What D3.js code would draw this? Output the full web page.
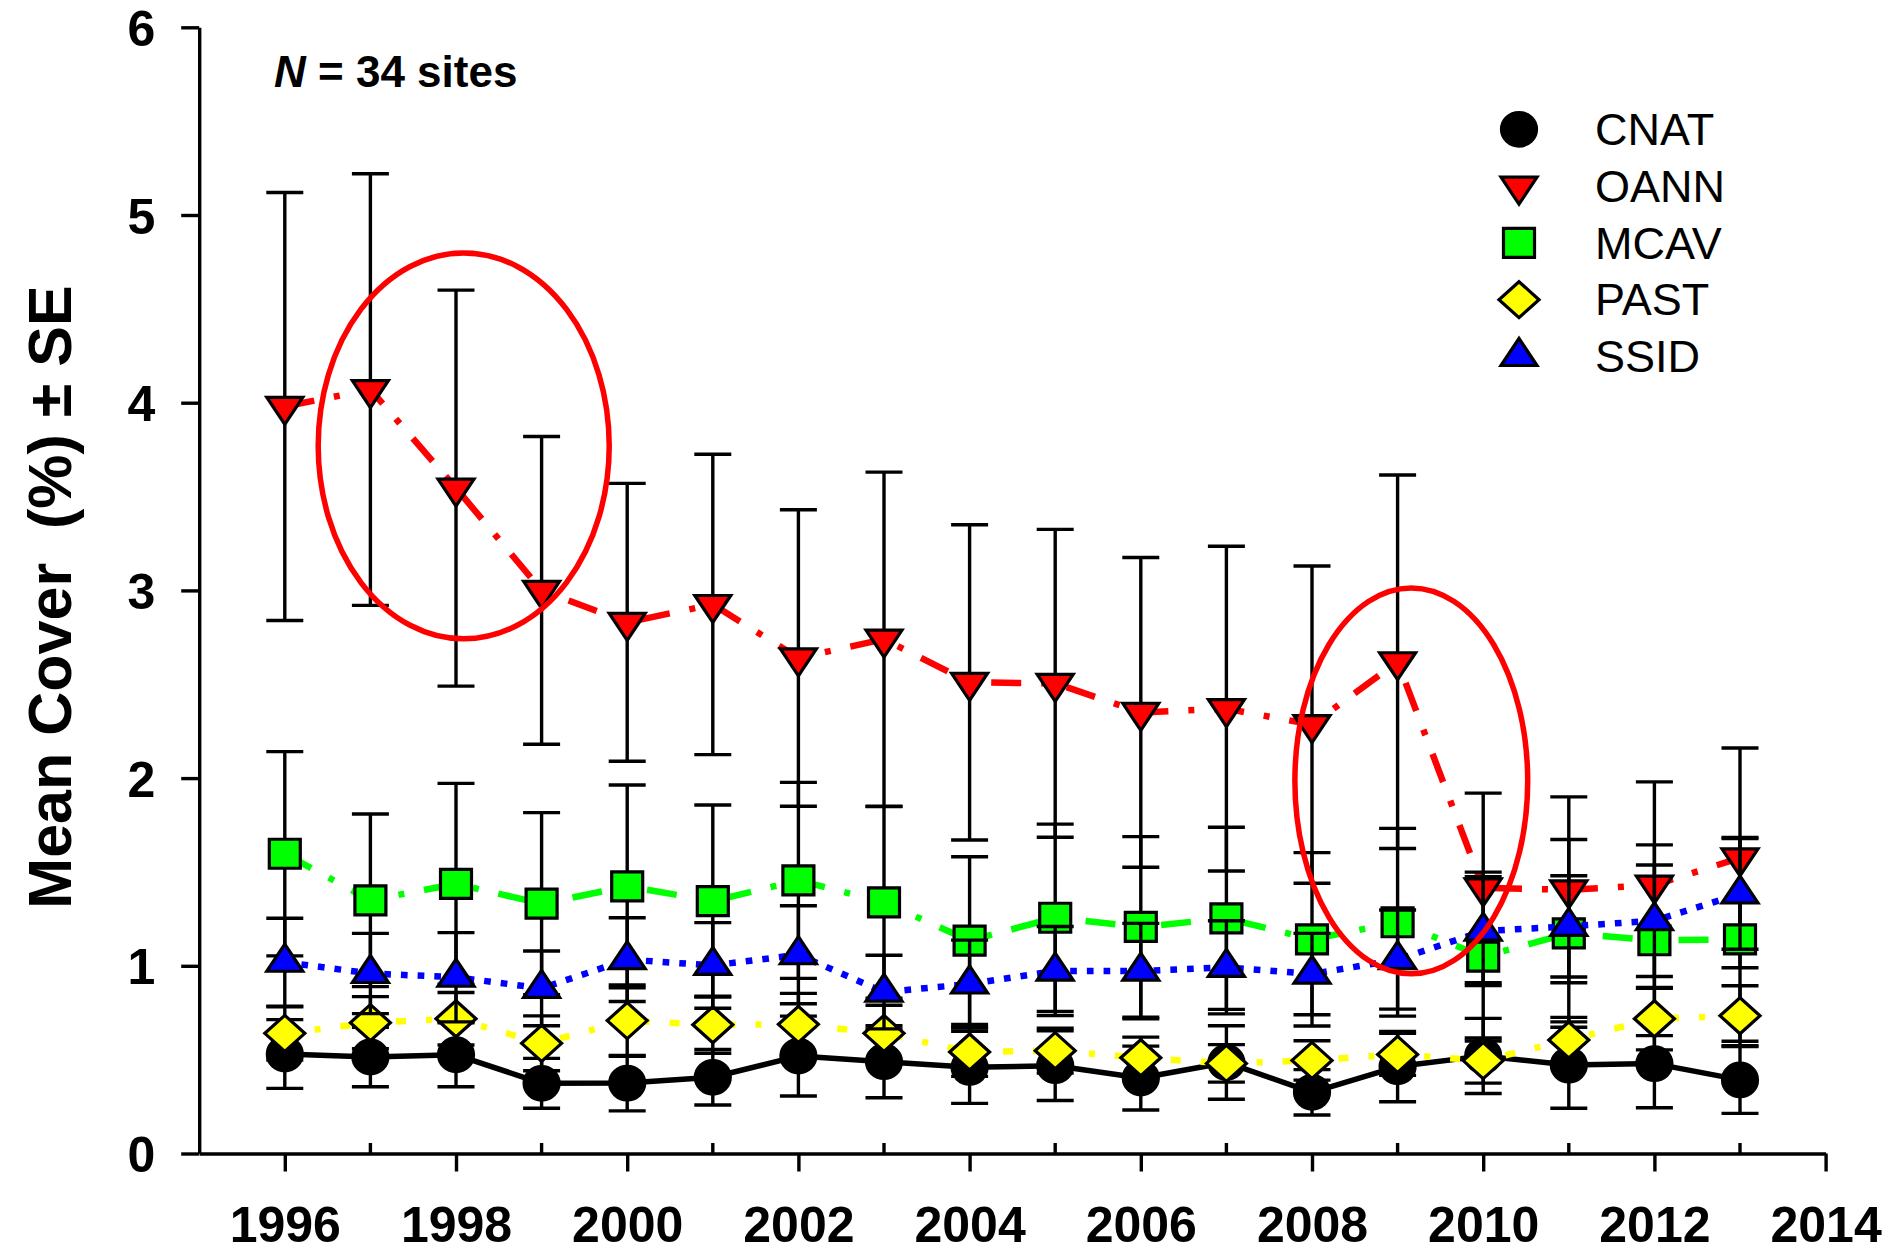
<!DOCTYPE html>
<html>
<head>
<meta charset="utf-8">
<script src="https://cdn.jsdelivr.net/npm/d3@7/dist/d3.min.js"></script>
<style>
  html, body { margin: 0; padding: 0; background: #fff; }
  svg { display: block; font-family: "Liberation Sans", Arial, Helvetica, sans-serif; }
  .pre { white-space: pre; }
</style>
</head>
<body>
<svg id="chart" width="1895" height="1254"></svg>
<script>
// Survey years
const years = [1996, 1997, 1998, 1999, 2000, 2001, 2002, 2003, 2004,
               2005, 2006, 2007, 2008, 2009, 2010, 2011, 2012, 2013];

// Mean cover (%) per species
const cnatMean = [0.530, 0.514, 0.526, 0.374, 0.375, 0.406, 0.519, 0.489, 0.459,
                  0.468, 0.402, 0.485, 0.326, 0.463, 0.520, 0.471, 0.479, 0.392];
const oannMean = [3.98, 4.07, 3.545, 3.00, 2.83, 2.925, 2.64, 2.74, 2.51,
                  2.505, 2.35, 2.37, 2.285, 2.62, 1.415, 1.405, 1.43, 1.575];
const mcavMean = [1.597, 1.349, 1.437, 1.331, 1.423, 1.345, 1.455, 1.338, 1.134,
                  1.256, 1.207, 1.253, 1.141, 1.232, 1.049, 1.173, 1.136, 1.141];
const pastMean = [0.640, 0.697, 0.718, 0.587, 0.708, 0.686, 0.688, 0.640, 0.541,
                  0.548, 0.510, 0.480, 0.496, 0.528, 0.495, 0.605, 0.718, 0.734];
const ssidMean = [1.019, 0.959, 0.939, 0.880, 1.033, 1.002, 1.059, 0.860, 0.903,
                  0.972, 0.972, 0.992, 0.956, 1.033, 1.185, 1.210, 1.240, 1.383];

// Standard errors
const cnatSE = [0.183, 0.158, 0.170, 0.133, 0.148, 0.148, 0.213, 0.192, 0.192,
                0.186, 0.170, 0.196, 0.121, 0.187, 0.200, 0.230, 0.235, 0.178];
const oannSE = [1.14, 1.15, 1.055, 0.82, 0.74, 0.80, 0.79, 0.89, 0.84,
                0.82, 0.825, 0.865, 0.845, 0.995, 0.505, 0.495, 0.55, 0.585];
const mcavSE = [0.544, 0.46, 0.535, 0.485, 0.54, 0.512, 0.522, 0.51, 0.447,
                0.499, 0.481, 0.485, 0.462, 0.50, 0.45, 0.50, 0.508, 0.543];
const pastSE = [0.142, 0.139, 0.14, 0.146, 0.19, 0.152, 0.165, 0.15, 0.13,
                0.12, 0.11, 0.10, 0.105, 0.112, 0.12, 0.12, 0.166, 0.16];
const ssidSE = [0.234, 0.214, 0.238, 0.199, 0.223, 0.228, 0.261, 0.196, 0.234,
                0.237, 0.254, 0.248, 0.217, 0.264, 0.29, 0.27, 0.297, 0.295];

// Series names and axis ticks
const seriesNames = ["CNAT", "OANN", "MCAV", "PAST", "SSID"];
const yTicks = [0, 1, 2, 3, 4, 5, 6];
const xMajorTicks = [1996, 1998, 2000, 2002, 2004, 2006, 2008, 2010, 2012, 2014];
const xMinorTicks = [1997, 1999, 2001, 2003, 2005, 2007, 2009, 2011, 2013];

// Highlight ellipses: centre year, centre value, half-width (years), half-height (value)
const highlightCx = [1998.09, 2009.16];
const highlightCy = [3.77, 1.985];
const highlightRx = [1.70, 1.36];
const highlightRy = [1.028, 1.028];

// ---------- drawing ----------
const svg = d3.select("#chart");
const x = d3.scaleLinear().domain([1995, 2014]).range([199.2, 1825.6]);
const y = d3.scaleLinear().domain([0, 6]).range([1153.5, 27.3]);

const styles = {
  CNAT: { fill: "#000000", line: "#000000", dash: null,          shape: "circle" },
  OANN: { fill: "#ff0000", line: "#ff0000", dash: "30 20 6 20",  shape: "down" },
  MCAV: { fill: "#00ff00", line: "#00ff00", dash: "30 20 6 20",  shape: "square" },
  PAST: { fill: "#ffff00", line: "#ffff00", dash: "10 20 6 20",  shape: "diamond" },
  SSID: { fill: "#0000ff", line: "#0000ff", dash: "6.7 10",      shape: "up" }
};

function markerPath(shape) {
  switch (shape) {
    case "circle": {
      const rx = 17.5, ry = 16.8;
      return `M${-rx},0A${rx},${ry} 0 1,0 ${rx},0A${rx},${ry} 0 1,0 ${-rx},0Z`;
    }
    case "square": {
      const w = 31, h = 29;
      return `M${-w/2},${-h/2}H${w/2}V${h/2}H${-w/2}Z`;
    }
    case "diamond": {
      const w = 40, h = 36;
      return `M0,${-h/2}L${w/2},0L0,${h/2}L${-w/2},0Z`;
    }
    case "up": {
      const w = 36, h = 27;
      return `M0,${-2*h/3}L${w/2},${h/3}L${-w/2},${h/3}Z`;
    }
    case "down": {
      const w = 36, h = 27;
      return `M0,${2*h/3}L${w/2},${-h/3}L${-w/2},${-h/3}Z`;
    }
  }
}

const seriesData = {
  CNAT: years.map((yr, i) => ({ year: yr, mean: cnatMean[i], se: cnatSE[i] })),
  OANN: years.map((yr, i) => ({ year: yr, mean: oannMean[i], se: oannSE[i] })),
  MCAV: years.map((yr, i) => ({ year: yr, mean: mcavMean[i], se: mcavSE[i] })),
  PAST: years.map((yr, i) => ({ year: yr, mean: pastMean[i], se: pastSE[i] })),
  SSID: years.map((yr, i) => ({ year: yr, mean: ssidMean[i], se: ssidSE[i] }))
};

// Axes
const axisStroke = 3.4;
const yAxis = svg.append("g").attr("transform", `translate(${x(1995)},0)`)
  .call(d3.axisLeft(y).tickValues(yTicks).tickFormat(d3.format("d"))
        .tickSize(18).tickSizeOuter(0).tickPadding(26));
const xAxis = svg.append("g").attr("transform", `translate(0,${y(0)})`)
  .call(d3.axisBottom(x).tickValues(xMajorTicks).tickFormat(d3.format("d"))
        .tickSize(18).tickSizeOuter(0).tickPadding(35));
[yAxis, xAxis].forEach(g => {
  g.select(".domain").attr("stroke", "#000").attr("stroke-width", axisStroke);
  g.selectAll(".tick line").attr("stroke", "#000").attr("stroke-width", axisStroke);
  g.selectAll(".tick text").attr("fill", "#000")
    .style("font-size", "50px").style("font-weight", "bold");
});
yAxis.selectAll(".tick text").attr("dy", "0.36em");

// Minor ticks point inward
xAxis.selectAll(".minor").data(xMinorTicks).enter().append("line")
  .attr("class", "minor")
  .attr("x1", d => x(d)).attr("x2", d => x(d))
  .attr("y1", 0).attr("y2", -10.5)
  .attr("stroke", "#000").attr("stroke-width", axisStroke);

// Axis title
svg.append("text")
  .attr("class", "pre")
  .attr("transform", `translate(71,597) rotate(-90)`)
  .attr("text-anchor", "middle")
  .style("font-size", "61px").style("font-weight", "bold")
  .text("Mean Cover  (%) \u00B1 SE");

// Sample size note
const note = svg.append("text")
  .attr("x", 274).attr("y", 86.5)
  .style("font-size", "44px").style("font-weight", "bold");
note.append("tspan").style("font-style", "italic").text("N");
note.append("tspan").text(" = 34 sites");

// Series: line, error bars, markers
const plot = svg.append("g");
const line = d3.line().x(d => x(d.year)).y(d => y(d.mean));

seriesNames.forEach(name => {
  const s = styles[name];
  const data = seriesData[name];
  const g = plot.append("g").attr("class", "series-" + name);

  g.append("path").datum(data)
    .attr("d", line)
    .attr("fill", "none")
    .attr("stroke", s.line)
    .attr("stroke-width", name === "CNAT" ? 5.5 : 6.5)
    .attr("stroke-dasharray", s.dash)
    .attr("stroke-linejoin", "round");

  const eb = g.append("g").attr("stroke", "#000").attr("stroke-width", 3.4);
  eb.selectAll(".bar").data(data).enter().append("line")
    .attr("x1", d => x(d.year)).attr("x2", d => x(d.year))
    .attr("y1", d => y(d.mean - d.se)).attr("y2", d => y(d.mean + d.se));
  eb.selectAll(".capHi").data(data).enter().append("line")
    .attr("x1", d => x(d.year) - 18.5).attr("x2", d => x(d.year) + 18.5)
    .attr("y1", d => y(d.mean + d.se)).attr("y2", d => y(d.mean + d.se));
  eb.selectAll(".capLo").data(data).enter().append("line")
    .attr("x1", d => x(d.year) - 18.5).attr("x2", d => x(d.year) + 18.5)
    .attr("y1", d => y(d.mean - d.se)).attr("y2", d => y(d.mean - d.se));

  g.selectAll(".marker").data(data).enter().append("path")
    .attr("transform", d => `translate(${x(d.year)},${y(d.mean)})`)
    .attr("d", markerPath(s.shape))
    .attr("fill", s.fill)
    .attr("stroke", "#000")
    .attr("stroke-width", 3.2);
});

// Highlight ellipses
svg.append("g").selectAll("ellipse").data(highlightCx).enter().append("ellipse")
  .attr("cx", (d, i) => x(highlightCx[i]))
  .attr("cy", (d, i) => y(highlightCy[i]))
  .attr("rx", (d, i) => x(highlightCx[i] + highlightRx[i]) - x(highlightCx[i]))
  .attr("ry", (d, i) => y(highlightCy[i] - highlightRy[i]) - y(highlightCy[i]))
  .attr("fill", "none").attr("stroke", "#ff0000").attr("stroke-width", 5.5);

// Legend
const legend = svg.append("g");
seriesNames.forEach((name, i) => {
  const rowY = 129.3 + i * 56.8;
  legend.append("path")
    .attr("transform", `translate(1519,${rowY})`)
    .attr("d", markerPath(styles[name].shape))
    .attr("fill", styles[name].fill)
    .attr("stroke", "#000").attr("stroke-width", 3.2);
  legend.append("text")
    .attr("x", 1595).attr("y", rowY + 15.7)
    .style("font-size", "45px")
    .text(name);
});
</script>
</body>
</html>
